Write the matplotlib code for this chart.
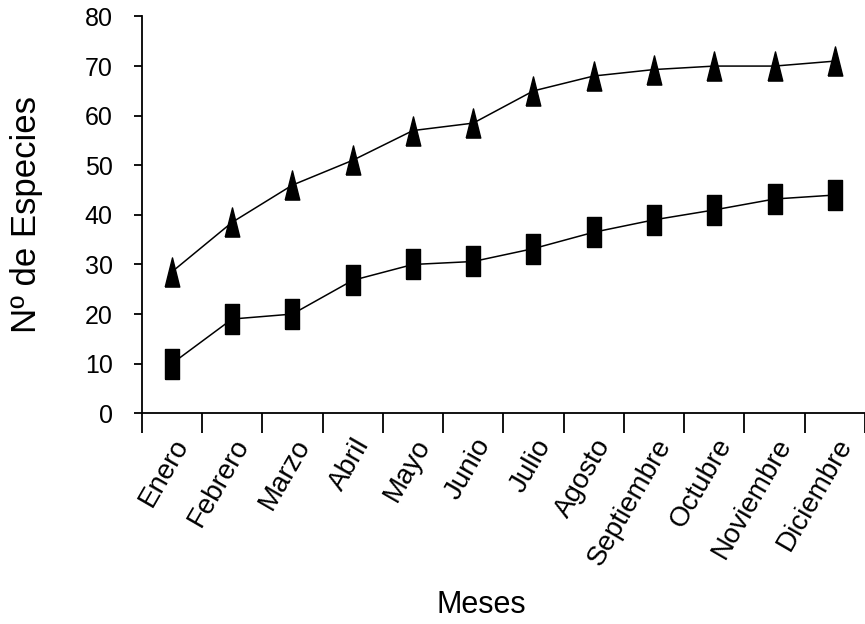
import numpy as np
import matplotlib
matplotlib.use("Agg")
from matplotlib import pyplot as plt

plt.rcParams['font.family'] = ['Liberation Sans', 'DejaVu Sans']

meses = ["Enero", "Febrero", "Marzo", "Abril", "Mayo", "Junio", "Julio",
         "Agosto", "Septiembre", "Octubre", "Noviembre", "Diciembre"]
serie_triangulos = [28.5, 38.5, 46, 51, 57, 58.5, 65, 68, 69.3, 70, 70, 71]
serie_cuadrados = [10, 19, 20, 26.8, 30, 30.6, 33.2, 36.5, 39, 41, 43.2, 44]
yticks = [0, 10, 20, 30, 40, 50, 60, 70, 80]

# tall, narrow markers like the original
tri = [(-0.25, -0.5), (0.25, -0.5), (0.0, 0.5), (-0.25, -0.5)]
sq = [(-0.25, -0.5), (0.25, -0.5), (0.25, 0.5), (-0.25, 0.5), (-0.25, -0.5)]

fig = plt.figure(figsize=(8.65, 6.24), dpi=100)
ax = fig.add_axes([0.1638, 0.3377, 1.0 - 0.1638, 0.6359])

x = np.arange(len(meses))
ax.plot(x, serie_triangulos, color='black', lw=1.1, marker=tri,
        markersize=21, markerfacecolor='black', markeredgecolor='black')
ax.plot(x, serie_cuadrados, color='black', lw=1.1, marker=sq,
        markersize=21, markerfacecolor='black', markeredgecolor='black')

ax.set_xlim(-0.5, 11.41)
ax.set_ylim(0, 80)
ax.spines['top'].set_visible(False)
ax.spines['right'].set_visible(False)
for s in ['left', 'bottom']:
    ax.spines[s].set_linewidth(1.3)

ax.set_yticks(yticks)
ax.set_yticklabels([str(v) for v in yticks], fontsize=18)
ax.tick_params(axis='y', direction='out', length=6, width=1.3, pad=15)

ax.set_xticks(x)
ax.set_xticks(np.arange(-0.5, 12, 1.0), minor=True)
ax.tick_params(axis='x', which='major', length=0, pad=15)
ax.tick_params(axis='x', which='minor', direction='out', length=14.5, width=1.3)
ax.set_xticklabels(meses, rotation=60, ha='right', va='top',
                   rotation_mode='anchor', fontsize=20)

ax.set_ylabel("Nº de Especies", fontsize=25, labelpad=30)
fig.text(0.556, 0.006, "Meses", fontsize=22, ha='center', va='bottom')

fig.savefig("out.png", dpi=100)
